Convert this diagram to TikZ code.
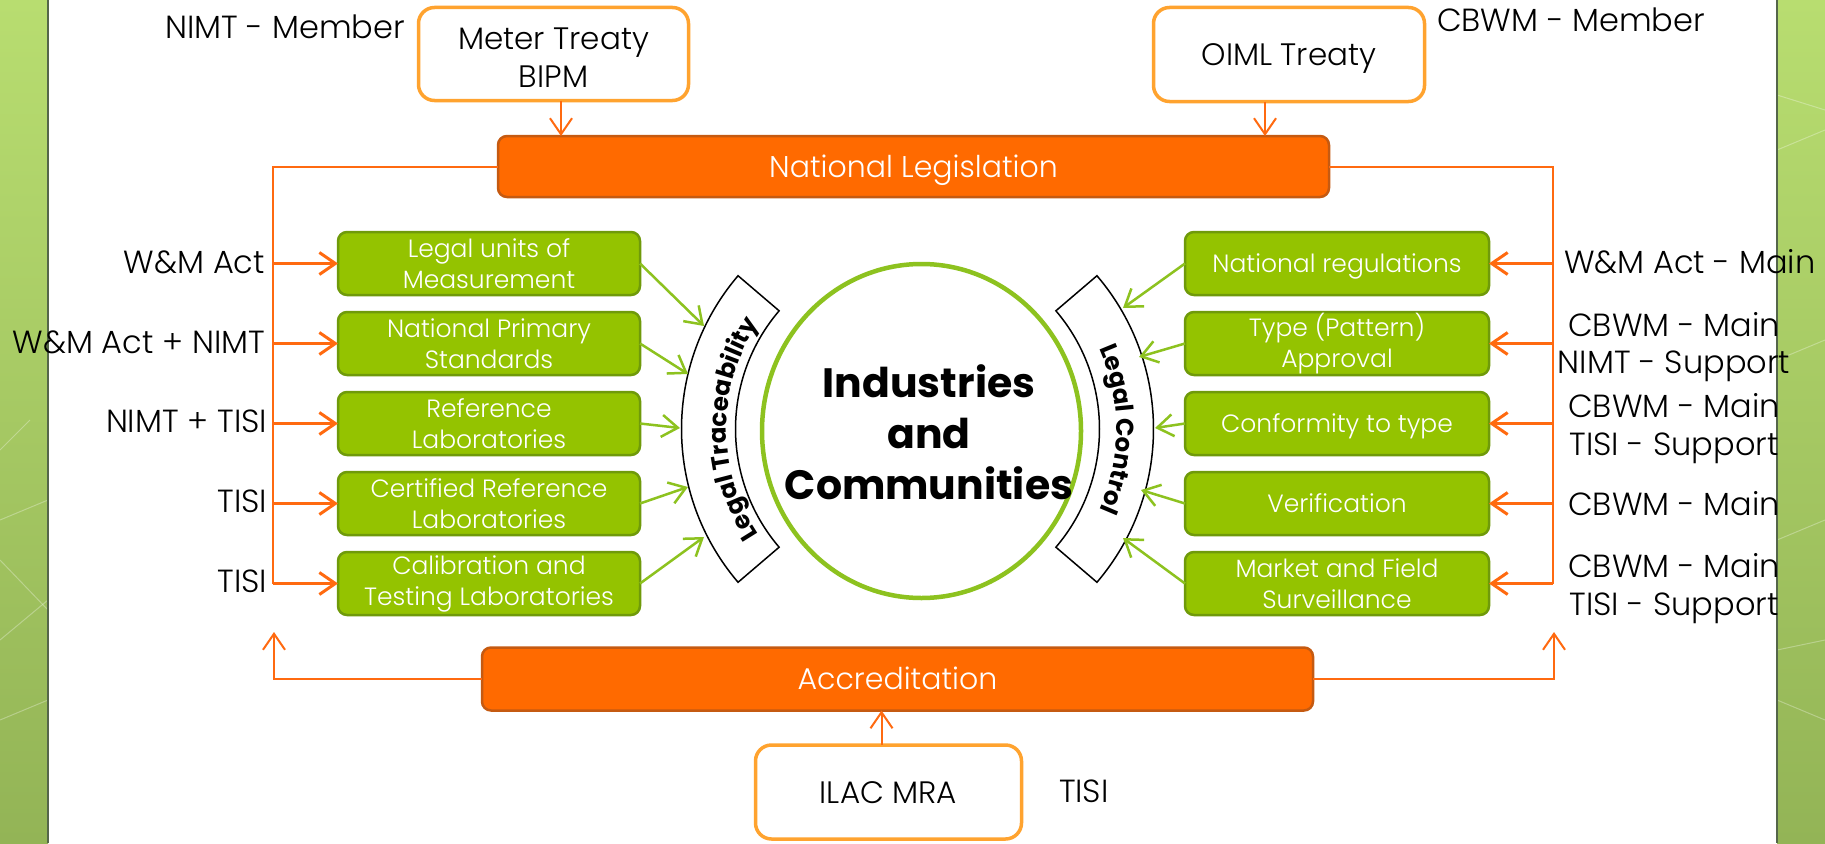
\documentclass[tikz,border=0pt]{standalone}
\usepackage{fontspec}
\setmainfont{Poppins Light}[BoldFont={Poppins Bold}]
\usetikzlibrary{arrows.meta,decorations.text,calc,shapes.geometric}
\definecolor{orgfill}{HTML}{FF6A00}
\definecolor{orgline}{HTML}{C55A11}
\definecolor{orgarrow}{HTML}{FF6A10}
\definecolor{lorange}{HTML}{FFA32F}
\definecolor{gfill}{HTML}{94C300}
\definecolor{gline}{HTML}{6F9A0A}
\definecolor{garrow}{HTML}{8DC21F}
\definecolor{stripA}{HTML}{B8DD70}
\definecolor{stripB}{HTML}{93B456}
\definecolor{stripedge}{HTML}{55664A}
\begin{document}
\begin{tikzpicture}[x=1pt,y=-1pt,
  every node/.style={inner sep=0pt, outer sep=0pt},
  treaty/.style={draw=lorange, line width=3.5pt, rounded corners=16pt, fill=white, align=center, font=\fontsize{31}{37}\selectfont},
  treatytext/.style={align=center, font=\fontsize{31}{37}\selectfont},
  bar/.style={draw=orgline, line width=2.5pt, fill=orgfill, rounded corners=9pt, text=white, font=\fontsize{30}{36}\selectfont, minimum width=831pt, text height=21pt, text depth=0pt},
  gbox/.style={draw=gline, line width=2.5pt, fill=gfill, rounded corners=9pt, text=white, align=center, minimum width=302pt, minimum height=63pt, font=\fontsize{25}{31}\selectfont},
  oneline/.style={text height=17.5pt, text depth=0pt},
  lab/.style={font=\fontsize{32}{38}\selectfont},
  conn/.style={draw=orgarrow, line width=2pt},
  tipo/.style={-{Straight Barb[length=16pt,width=22pt]}},
  oarr/.style={draw=orgarrow, line width=3pt, tipo},
  garr/.style={draw=garrow, line width=2.5pt, -{Straight Barb[length=16pt,width=22pt]}},
  band/.style={draw=black, line width=1.5pt, fill=white},
]
\useasboundingbox (0,0) rectangle (1825,843);
\fill[white] (0,0) rectangle (1825,843);
% side strips
\shade[top color=stripA, bottom color=stripB] (0,0) rectangle (48,843);
\shade[top color=stripA, bottom color=stripB] (1777,0) rectangle (1825,843);
\begin{scope}[white, opacity=0.3, line width=1pt]
  \draw (0,520) -- (48,500); \draw (0,560) -- (48,610); \draw (0,640) -- (48,600);
  \draw (0,720) -- (48,700); \draw (0,450) -- (30,420);
  \draw (1777,150) -- (1825,130); \draw (1777,95) -- (1825,110); \draw (1777,360) -- (1825,340);
  \draw (1777,650) -- (1825,640); \draw (1777,700) -- (1825,720); \draw (1777,540) -- (1825,520);
\end{scope}
\draw[stripedge, line width=2pt] (48,0) -- (48,843);
\draw[stripedge, line width=2pt] (1777,0) -- (1777,843);

% main boxes
\node[treaty, minimum width=270pt, minimum height=93pt] (meter) at (553.5,54) {};
\node[treatytext, anchor=base] (metertxt) at (553.5,87) {Meter Treaty\\BIPM};
\node[treaty, minimum width=271pt, minimum height=94pt, text height=22pt, text depth=0pt] (oiml) at (1289,54.5) {OIML Treaty};
\node[bar, minimum height=61pt] (natleg) at (913.5,166.5) {National Legislation};
\node[bar, minimum height=63pt] (accr) at (897.5,679) {Accreditation};
\node[treaty, minimum width=266pt, minimum height=94pt, text height=22pt, text depth=0pt] (ilac) at (888.5,792) {ILAC MRA};

% connectors from legislation and accreditation
\coordinate (lb) at (273,583.5);
\coordinate (rb) at (1553,583.5);
\coordinate (al) at (274,632);
\coordinate (ar) at (1554,632);
\draw[conn] (natleg.west) -| (lb);
\draw[conn] (natleg.east) -| (rb);
\draw[conn, tipo] (accr.west) -| (al);
\draw[conn, tipo] (accr.east) -| (ar);
\coordinate (meterdn) at ([xshift=7.5pt]meter.south);
\coordinate (oimldn) at ([xshift=-24pt]oiml.south);
\coordinate (ilacup) at ([xshift=-7pt]ilac.north);
\draw[conn, tipo] (meterdn) -- (meterdn |- natleg.north);
\draw[conn, tipo] (oimldn) -- (oimldn |- natleg.north);
\draw[conn, tipo] (ilacup) -- (ilacup |- accr.south);

% green boxes
\node[gbox] (L1) at (489,263.5) {Legal units of\\Measurement};
\node[gbox] (L2) at (489,343.5) {National Primary\\Standards};
\node[gbox] (L3) at (489,423.5) {Reference\\Laboratories};
\node[gbox] (L4) at (489,503.5) {Certified Reference\\Laboratories};
\node[gbox] (L5) at (489,583.5) {Calibration and\\Testing Laboratories};
\node[gbox, oneline, minimum width=304pt] (R1) at (1337,263.5) {National regulations};
\node[gbox, minimum width=304pt] (R2) at (1337,343.5) {Type (Pattern)\\Approval};
\node[gbox, oneline, minimum width=304pt] (R3) at (1337,423.5) {Conformity to type};
\node[gbox, oneline, minimum width=304pt] (R4) at (1337,503.5) {Verification};
\node[gbox, minimum width=304pt] (R5) at (1337,583.5) {Market and Field\\Surveillance};

\foreach \n in {1,...,5}{
  \draw[oarr] (lb |- L\n.west) -- (L\n.west);
  \draw[oarr] (rb |- R\n.east) -- (R\n.east);
}

% central circle
\node[ellipse, draw=garrow, line width=4.5pt, minimum width=319pt, minimum height=334pt, fill=white] (ind) at (921.5,431) {};
\node[font=\bfseries\fontsize{41}{51}\selectfont, align=center] (indtxt) at (929,432) {Industries\\and\\Communities};

% bands
\coordinate (bc) at (917.5,429);
\path[band] ($(bc)+(139.5:236)$) arc[start angle=139.5, end angle=220.5, radius=236]
  -- ($(bc)+(220.5:182)$) arc[start angle=220.5, end angle=139.5, radius=182] -- cycle;
\path[band] ($(bc)+(-40.5:236)$) arc[start angle=-40.5, end angle=40.5, radius=236]
  -- ($(bc)+(40.5:182)$) arc[start angle=40.5, end angle=-40.5, radius=182] -- cycle;
\path[decorate, decoration={text along path, text align=center,
  text={|\bfseries\fontsize{24.5}{24}\selectfont|Legal Traceability}}]
  ($(bc)+(139.5:191)$) arc[start angle=139.5, end angle=220.5, radius=191];
\path[decorate, decoration={text along path, text align=center,
  text={|\bfseries\fontsize{24.5}{24}\selectfont|Legal Control}}]
  ($(bc)+(-40.5:199)$) arc[start angle=-40.5, end angle=40.5, radius=199];

% green arrows
\coordinate (tL1) at (704,326);
\coordinate (tL2) at (688,374);
\coordinate (tL3) at (680,428);
\coordinate (tL4) at (688,487);
\coordinate (tL5) at (704,537);
\coordinate (tR1) at (1123,308);
\coordinate (tR2) at (1139,357);
\coordinate (tR3) at (1155,428);
\coordinate (tR4) at (1141,490);
\coordinate (tR5) at (1123,538);
\foreach \n in {1,...,5}{
  \draw[garr] (L\n.east) -- (tL\n);
  \draw[garr] (R\n.west) -- (tR\n);
}

% labels
\node[lab, anchor=base east] (nimtm) at (405,38) {NIMT - Member};
\node[lab, anchor=base west] (cbwmm) at (1437,32) {CBWM - Member};
\node[lab, anchor=base east] (a1) at (265,273) {W\&M Act};
\node[lab, anchor=base east] (a2) at (265,353) {W\&M Act + NIMT};
\node[lab, anchor=base east] (a3) at (267,432) {NIMT + TISI};
\node[lab, anchor=base east] (a4) at (267,512) {TISI};
\node[lab, anchor=base east] (a5) at (267,592) {TISI};
\node[lab, anchor=base west] (b1) at (1564,273) {W\&M Act - Main};
\node[lab, anchor=base] (b2a) at (1674,336) {CBWM - Main};
\node[lab, anchor=base] (b2b) at (1674,373) {NIMT - Support};
\node[lab, anchor=base] (b3a) at (1674,417) {CBWM - Main};
\node[lab, anchor=base] (b3b) at (1674,455) {TISI - Support};
\node[lab, anchor=base] (b4) at (1674,515) {CBWM - Main};
\node[lab, anchor=base] (b5a) at (1674,577) {CBWM - Main};
\node[lab, anchor=base] (b5b) at (1674,615) {TISI - Support};
\node[lab, anchor=base west] (tisi) at (1059,802) {TISI};
\end{tikzpicture}
\end{document}
